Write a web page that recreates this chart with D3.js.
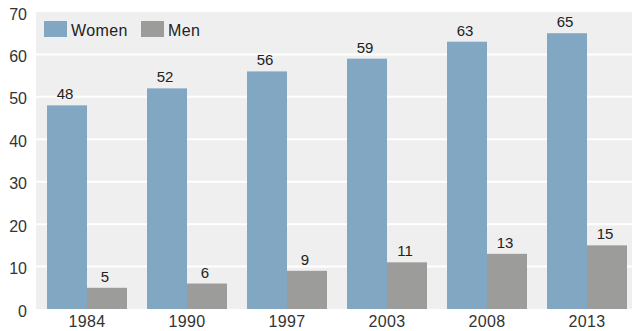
<!DOCTYPE html>
<html>
<head>
<meta charset="utf-8">
<script src="https://cdn.jsdelivr.net/npm/d3@7"></script>
<style>
  html, body { margin: 0; padding: 0; background: #fff; }
  svg { display: block; font-family: "Liberation Sans", Arial, Helvetica, sans-serif; }
</style>
</head>
<body>
<svg id="chart" width="632" height="331"></svg>
<script>
// Survey years and shares (%) by group
const years = ["1984", "1990", "1997", "2003", "2008", "2013"];
const women = [48, 52, 56, 59, 63, 65];
const men = [5, 6, 9, 11, 13, 15];
const seriesNames = ["Women", "Men"];
const seriesColors = ["#82a7c3", "#9c9c9a"];
const yTicks = [0, 10, 20, 30, 40, 50, 60, 70];

const svg = d3.select("#chart");
const panel = { left: 36, right: 632, top: 12, bottom: 309 };

const y = d3.scaleLinear().domain([0, 70]).range([panel.bottom, panel.top]);
const x0 = d3.scaleBand().domain(years).range([37, 637]).paddingInner(0.2).paddingOuter(0.1);
const x1 = d3.scaleBand().domain(seriesNames).range([0, x0.bandwidth()]);

const rows = years.map((yr, i) => ({ year: yr, values: [women[i], men[i]] }));

// Plot background
svg.append("rect")
  .attr("x", panel.left).attr("y", panel.top)
  .attr("width", panel.right - panel.left).attr("height", panel.bottom - panel.top)
  .attr("fill", "#efefef");

// Horizontal gridlines
svg.append("g").selectAll("line")
  .data(yTicks.filter(t => t > 0 && t < 70))
  .join("line")
  .attr("x1", panel.left).attr("x2", panel.right)
  .attr("y1", d => y(d)).attr("y2", d => y(d))
  .attr("stroke", "#fff").attr("stroke-width", 2);

// Y axis labels
const yAxis = d3.axisLeft(y).tickValues(yTicks).tickSize(0).tickPadding(0);
svg.append("g")
  .attr("transform", `translate(${panel.left - 9},2)`)
  .call(yAxis)
  .call(g => g.select(".domain").remove())
  .call(g => g.selectAll("text").attr("font-size", 16).attr("fill", "#333")
    .attr("font-family", "Liberation Sans, Arial, sans-serif"));

// Bars
const groups = svg.append("g").selectAll("g")
  .data(rows).join("g")
  .attr("transform", d => `translate(${x0(d.year)},0)`);

groups.selectAll("rect")
  .data(d => d.values.map((v, k) => ({ key: seriesNames[k], value: v, k })))
  .join("rect")
  .attr("x", d => x1(d.key))
  .attr("y", d => y(d.value))
  .attr("width", x1.bandwidth())
  .attr("height", d => y(0) - y(d.value))
  .attr("fill", d => seriesColors[d.k]);

// Value labels
groups.selectAll("text")
  .data(d => d.values.map((v, k) => ({ key: seriesNames[k], value: v })))
  .join("text")
  .attr("x", d => x1(d.key) + x1.bandwidth() / 2 - 2)
  .attr("y", d => y(d.value) - 6)
  .attr("text-anchor", "middle")
  .attr("font-size", 15)
  .attr("fill", "#222")
  .text(d => d.value);

// X axis labels
const xAxis = d3.axisBottom(x0).tickSize(0).tickPadding(0);
svg.append("g")
  .attr("transform", `translate(0,${panel.bottom + 7})`)
  .call(xAxis)
  .call(g => g.select(".domain").remove())
  .call(g => g.selectAll("text").attr("font-size", 16).attr("fill", "#333")
    .attr("letter-spacing", "0.4px")
    .attr("font-family", "Liberation Sans, Arial, sans-serif"));

// Legend
const legend = svg.append("g").attr("transform", "translate(44,21)");
const legendX = [0, 97];
seriesNames.forEach((name, k) => {
  const item = legend.append("g").attr("transform", `translate(${legendX[k]},0)`);
  item.append("rect").attr("width", 23).attr("height", 16).attr("fill", seriesColors[k]);
  item.append("text").attr("x", 27).attr("y", 15)
    .attr("font-size", 16).attr("letter-spacing", "0.4px")
    .attr("fill", "#222").text(name);
});
</script>
</body>
</html>
